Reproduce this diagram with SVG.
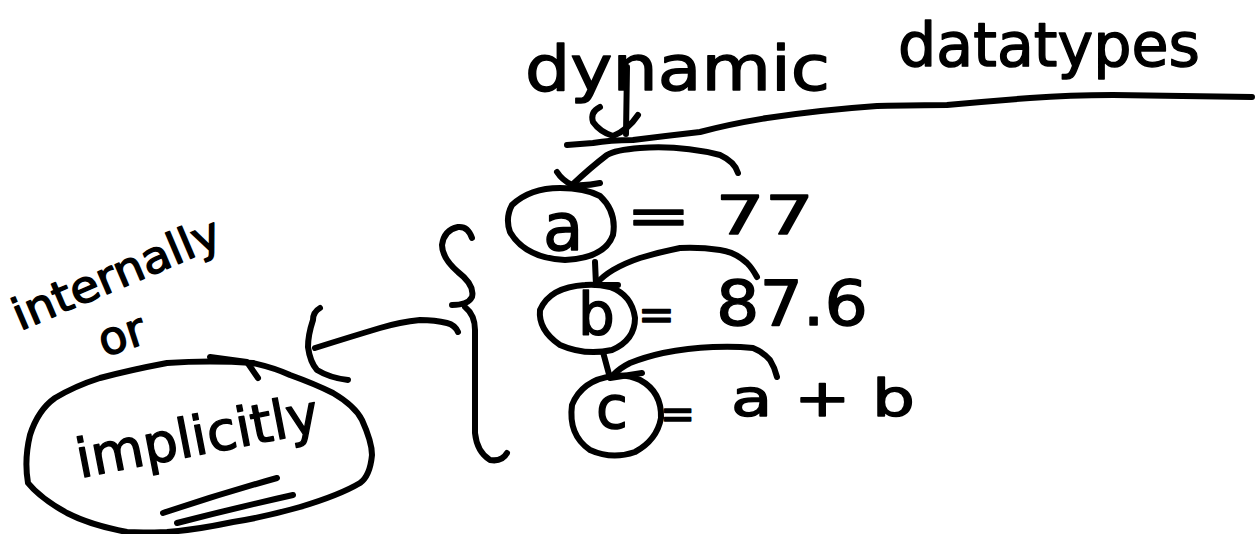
<svg xmlns="http://www.w3.org/2000/svg" width="1259" height="534" viewBox="0 0 1259 534">
<style>
.s{fill:none;stroke:#000;stroke-width:6;stroke-linecap:round;stroke-linejoin:round}
.t{font-family:"DejaVu Sans",sans-serif;fill:#000;stroke:#000;stroke-width:1.4;stroke-linejoin:round}
</style>
<rect width="1259" height="534" fill="#fff"/>
<g id="title">
<text class="t" font-size="62"><tspan x="525" y="90" textLength="305" lengthAdjust="spacingAndGlyphs">dynamic</tspan><tspan x="898" y="66" textLength="302" lengthAdjust="spacingAndGlyphs" font-size="60">datatypes</tspan></text>
<path class="s" d="M567,145 L593,143 Q610,140 633,140 Q665,136 700,132 Q730,124 767,118 Q820,110 877,106 Q920,105 947,105 Q990,101 1030,98 Q1070,95 1113,95 L1252,97"/>
</g>
<g id="var-a">
<path class="s" d="M560,188 Q530,188 512,205 Q505,218 510,232 Q525,258 565,260 Q605,258 613,235 Q617,212 600,196 Q585,188 560,188 Z"/>
<text class="t" x="543" y="250" font-size="66">a</text>
<text class="t" x="626" y="234" font-size="54" textLength="188" lengthAdjust="spacingAndGlyphs">= 77</text>
</g>
<g id="var-b">
<path class="s" d="M585,285 Q550,287 540,310 Q538,330 560,345 Q585,356 612,350 Q635,340 635,318 Q632,295 610,287 Q597,284 585,285 Z"/>
<text class="t" x="578" y="335" font-size="58">b</text>
<text class="t" x="638" y="330" font-size="44">=</text>
<text class="t" x="716" y="325" font-size="62" textLength="152" lengthAdjust="spacingAndGlyphs">87.6</text>
</g>
<g id="var-c">
<path class="s" d="M613,376 Q582,380 572,405 Q568,435 590,450 Q612,460 635,452 Q657,440 661,418 Q662,392 640,380 Q627,374 613,376 Z"/>
<text class="t" x="596" y="428" font-size="58">c</text>
<text class="t" x="660" y="428" font-size="42">=</text>
<text class="t" x="731" y="416" font-size="52" textLength="184" lengthAdjust="spacingAndGlyphs">a + b</text>
</g>
<g id="brace">
<path class="s" d="M472,238 Q468,226 458,227 Q444,230 442,245 Q442,258 458,272 Q475,285 472,297 Q468,305 452,305"/>
<path class="s" d="M465,307 Q475,315 475,330 L475,433 Q477,452 490,460 Q502,462 507,453"/>
</g>
<g id="note-implicitly">
<text class="t" font-size="44" transform="translate(20,331) rotate(-23)" textLength="222" lengthAdjust="spacingAndGlyphs">internally</text>
<text class="t" font-size="46" transform="translate(104,357) rotate(-18)">or</text>
<path class="s" d="M28,483 Q24,460 30,435 Q38,410 55,398 Q75,386 100,378 Q130,370 167,363 Q210,360 253,363 Q275,368 290,375 Q315,384 333,393 Q355,406 362,420 Q372,442 372,455 Q370,476 360,483 Q340,495 300,507 Q265,517 233,522 Q195,530 167,532 Q140,533 127,532 Q90,525 67,513 Q40,498 28,483 Z"/>
<path class="s" d="M210,357 L247,362 L258,378"/>
<text class="t" font-size="54" transform="translate(80,478) rotate(-11)" textLength="246" lengthAdjust="spacingAndGlyphs">implicitly</text>
<path class="s" d="M163,513 Q220,494 277,478"/>
<path class="s" d="M177,523 Q235,508 293,495"/>
</g>
<g id="connectors">
<path class="s" d="M627,67 L626,134"/>
<path class="s" d="M600,107 Q590,112 593,122 Q600,132 613,136 Q628,130 638,115"/>
<path class="s" d="M738,173 Q735,162 720,155 Q680,145 640,148 Q615,150 607,155 Q590,168 572,185"/>
<path class="s" d="M557,172 Q562,180 572,185 Q588,186 600,183"/>
<path class="s" d="M757,277 Q752,268 747,263 Q735,252 720,250 Q700,247 680,248 Q660,252 640,258 Q625,263 613,270 Q603,276 597,283"/>
<path class="s" d="M595,262 L596,285 L618,285"/>
<path class="s" d="M777,377 Q775,368 770,360 Q763,352 753,348 Q735,346 713,347 Q688,348 663,353 Q645,357 630,363 Q620,368 613,375"/>
<path class="s" d="M603,352 L610,378 L642,373"/>
<path class="s" d="M458,332 Q455,325 447,323 Q435,320 420,320 Q400,322 380,328 Q350,337 315,348"/>
<path class="s" d="M320,308 Q313,312 313,320 Q308,335 308,347 Q310,362 317,370 Q330,378 348,380"/>
</g>
</svg>
